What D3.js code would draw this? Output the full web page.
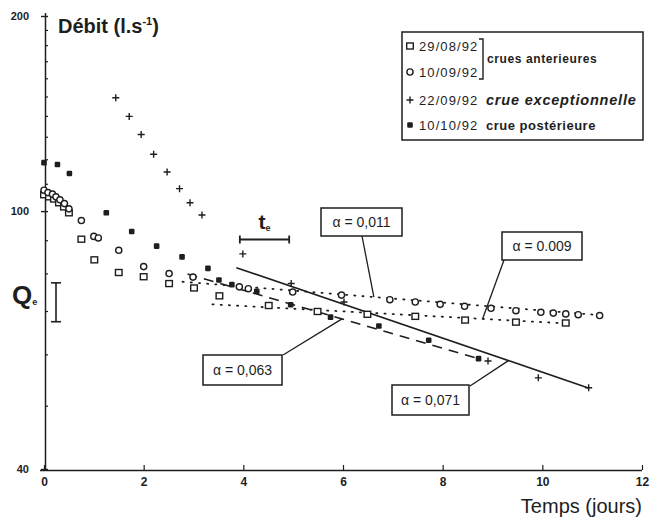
<!DOCTYPE html>
<html><head><meta charset="utf-8">
<script src="https://cdn.jsdelivr.net/npm/d3@7"></script>
<style>
body{margin:0;background:#fff;}
svg{display:block;font-family:"Liberation Sans",Arial,Helvetica,sans-serif;}
</style></head>
<body><svg id="c" width="651" height="517"></svg>
<script>
// ---------- DATA ----------
const timeTicks = [0, 2, 4, 6, 8, 10, 12];
const flowTicks = [40, 100, 200];
const flowMinorTicks = [50, 60, 70, 80, 90, 110, 120, 130, 140, 150, 160, 170, 180, 190];

const seriesDates = ["29/08/92", "10/09/92", "22/09/92", "10/10/92"];
const seriesNotes = ["crues anterieures", "crue exceptionnelle", "crue postérieure"];

// 29/08/92 (open squares)
const sq29Time = [0, 0.1, 0.2, 0.3, 0.4, 0.5, 0.75, 1.01, 1.5, 2.0, 2.51, 3.01, 3.52, 4.51, 5.49, 6.49, 7.45, 8.45, 9.47, 10.47];
const sq29Flow = [106, 105.2, 104.4, 103, 101.5, 99.4, 90.5, 84.1, 80.4, 79.2, 77.3, 76.1, 74.0, 71.5, 70.0, 69.3, 68.8, 67.9, 67.4, 67.2];
// 10/09/92 (open circles)
const ci10Time = [0, 0.08, 0.17, 0.24, 0.32, 0.41, 0.5, 0.75, 1.0, 1.09, 1.5, 2.0, 2.51, 2.99, 3.92, 4.1, 4.99, 5.97, 6.94, 7.45, 7.95, 8.44, 8.97, 9.47, 9.97, 10.22, 10.47, 10.72, 11.15];
const ci10Flow = [107.7, 106.8, 106.2, 105.2, 104.1, 102.7, 100.8, 96.7, 91.4, 90.9, 87.0, 82.1, 80.1, 79.1, 76.4, 75.9, 75.0, 74.2, 73.0, 72.4, 71.8, 71.3, 70.8, 70.2, 69.8, 69.6, 69.4, 69.2, 69.0];
// 22/09/92 (plus)
const pl22Time = [1.44, 1.71, 1.95, 2.2, 2.47, 2.72, 2.93, 3.17, 3.99, 4.96, 6.02, 8.91, 9.92, 10.93];
const pl22Flow = [149.6, 140, 131.3, 122.4, 114.9, 108.3, 103, 98.6, 85.9, 77.3, 72.4, 58.7, 55.3, 53.4];
// 10/10/92 (filled)
const fi10Time = [0, 0.27, 0.51, 1.25, 1.76, 2.26, 2.77, 3.29, 3.51, 3.77, 4.27, 4.95, 5.75, 6.72, 7.72, 8.72];
const fi10Flow = [118.8, 118, 114.3, 99.4, 93, 88.3, 85, 81.6, 78.3, 77.0, 75.2, 71.7, 68.6, 66.5, 63.2, 59.2];

// recession fits: label, start [t,Q], end [t,Q], t where the label leader touches
const fitLabels = ["α = 0,071", "α = 0,063", "α = 0,011", "α = 0.009"];
const fitStart = [[3.86, 81.8], [2.88, 80.0], [2.78, 77.8], [3.38, 71.8]];
const fitEnd = [[10.94, 53.3], [8.72, 59.2], [11.15, 69.1], [10.47, 67.1]];
const fitLeaderTime = [9.32, 5.98, 6.62, 8.8];

// t_e bar (days) and Q_e range (l/s)
const teRange = [3.93, 4.92];
const qeRange = [67.5, 77.5];

// ---------- DRAW ----------
const svg = d3.select("#c");
const ink = "#1e1e1e";
const x = d3.scaleLinear().domain([0, 12]).range([44, 642]);
const y = d3.scaleLog().domain([40, 200]).range([469, 16]);

// x axis
const gx = svg.append("g").attr("transform", "translate(0,470)")
  .call(d3.axisBottom(x).tickValues(timeTicks).tickSizeInner(-5).tickSizeOuter(0).tickPadding(7).tickFormat(d3.format("d")));
gx.select(".domain").attr("stroke", ink).attr("stroke-width", 1.6).attr("d", "M40,0.5H642");
gx.selectAll(".tick line").attr("stroke", ink).attr("stroke-width", 1.2);
gx.selectAll(".tick text").attr("fill", ink).attr("font-size", 12).attr("font-weight", "bold");

// y axis
const gy = svg.append("g").attr("transform", "translate(45,0)")
  .call(d3.axisLeft(y).tickValues(flowTicks).tickSizeInner(4).tickSizeOuter(0).tickPadding(12).tickFormat(d3.format("d")));
gy.select(".domain").attr("stroke", ink).attr("stroke-width", 1.5).attr("d", "M0.5,13V470");
gy.selectAll(".tick line").attr("stroke", ink).attr("stroke-width", 1.4).attr("x1", 3);
gy.selectAll(".tick text").attr("fill", ink).attr("font-size", 11).attr("font-weight", "bold");
svg.append("g").selectAll("line").data(flowMinorTicks).join("line")
  .attr("x1", 45).attr("x2", 48).attr("y1", d => y(d)).attr("y2", d => y(d))
  .attr("stroke", ink).attr("stroke-width", 1.2);

// axis titles
const dt = svg.append("text").attr("x", 58).attr("y", 33).attr("fill", ink)
  .attr("font-size", 20).attr("font-weight", "bold");
dt.append("tspan").text("Débit (l.s");
dt.append("tspan").attr("font-size", 11).attr("dy", -8).text("-1");
dt.append("tspan").attr("dy", 8).text(")");
svg.append("text").attr("x", 642).attr("y", 513).attr("text-anchor", "end").attr("fill", ink)
  .attr("font-size", 20).text("Temps (jours)");

// fit lines
const fitStyle = [
  {dash: null, w: 1.6},
  {dash: "10,7", w: 1.6},
  {dash: "1.2,7", w: 1.8},
  {dash: "1.2,7", w: 1.8}
];
const fits = fitLabels.map((lab, i) => ({lab, a: fitStart[i], b: fitEnd[i], lt: fitLeaderTime[i], st: fitStyle[i]}));
svg.append("g").selectAll("line").data(fits).join("line")
  .attr("x1", d => x(d.a[0])).attr("y1", d => y(d.a[1]))
  .attr("x2", d => x(d.b[0])).attr("y2", d => y(d.b[1]))
  .attr("stroke", ink).attr("stroke-width", d => d.st.w)
  .attr("stroke-dasharray", d => d.st.dash).attr("stroke-linecap", d => d.st.dash && d.st.dash.startsWith("1.2") ? "round" : "butt");

function fitQ(f, t) {
  const r = (t - f.a[0]) / (f.b[0] - f.a[0]);
  return Math.exp(Math.log(f.a[1]) + r * (Math.log(f.b[1]) - Math.log(f.a[1])));
}

// annotation boxes (layout)
const boxLayout = [
  {x: 392, y: 385, w: 77, h: 30, lx: 470, ly: 386},
  {x: 203, y: 355, w: 79, h: 30, lx: 283, ly: 355},
  {x: 321, y: 208, w: 81, h: 28, lx: 362, ly: 236},
  {x: 502, y: 232, w: 80, h: 28, lx: 504, ly: 260}
];
const ann = svg.append("g");
fits.forEach((f, i) => {
  const b = boxLayout[i];
  ann.append("line").attr("x1", b.lx).attr("y1", b.ly)
    .attr("x2", x(f.lt)).attr("y2", y(fitQ(f, f.lt)))
    .attr("stroke", ink).attr("stroke-width", 1.3);
  ann.append("rect").attr("x", b.x).attr("y", b.y).attr("width", b.w).attr("height", b.h)
    .attr("fill", "#fff").attr("stroke", ink).attr("stroke-width", 1.5);
  ann.append("text").attr("x", b.x + b.w / 2).attr("y", b.y + b.h / 2 + 5)
    .attr("text-anchor", "middle").attr("font-size", 14).attr("fill", ink).text(f.lab);
});

// markers
const mk = svg.append("g");
const sq = sq29Time.map((t, i) => [t, sq29Flow[i]]);
const ci = ci10Time.map((t, i) => [t, ci10Flow[i]]);
const pl = pl22Time.map((t, i) => [t, pl22Flow[i]]);
const fi = fi10Time.map((t, i) => [t, fi10Flow[i]]);

function drawSquare(g, px, py) {
  g.append("rect").attr("x", px - 3.3).attr("y", py - 3).attr("width", 6.6).attr("height", 6)
    .attr("fill", "#fff").attr("stroke", ink).attr("stroke-width", 1.4);
}
function drawCircle(g, px, py) {
  g.append("circle").attr("cx", px).attr("cy", py).attr("r", 3.1)
    .attr("fill", "#fff").attr("stroke", ink).attr("stroke-width", 1.4);
}
function drawPlus(g, px, py) {
  g.append("path").attr("d", `M${px - 3.5},${py}H${px + 3.5}M${px},${py - 3.5}V${py + 3.5}`)
    .attr("stroke", ink).attr("stroke-width", 1.4);
}
function drawFilled(g, px, py) {
  g.append("rect").attr("x", px - 2.8).attr("y", py - 2.8).attr("width", 5.6).attr("height", 5.6)
    .attr("rx", 1.2).attr("fill", ink);
}
sq.forEach(d => drawSquare(mk, x(d[0]), y(d[1])));
ci.forEach(d => drawCircle(mk, x(d[0]), y(d[1])));
fi.forEach(d => drawFilled(mk, x(d[0]), y(d[1])));
pl.forEach(d => drawPlus(mk, x(d[0]), y(d[1])));

// t_e bar
const te = svg.append("g").attr("stroke", ink).attr("stroke-width", 1.8);
const teY = 239.5;
te.append("line").attr("x1", x(teRange[0])).attr("x2", x(teRange[1])).attr("y1", teY).attr("y2", teY);
te.append("line").attr("x1", x(teRange[0])).attr("x2", x(teRange[0])).attr("y1", teY - 4).attr("y2", teY + 4);
te.append("line").attr("x1", x(teRange[1])).attr("x2", x(teRange[1])).attr("y1", teY - 4).attr("y2", teY + 4);
const tt = svg.append("text").attr("x", (x(teRange[0]) + x(teRange[1])) / 2 - 6).attr("y", 229)
  .attr("font-size", 21).attr("font-weight", "bold").attr("fill", ink);
tt.append("tspan").text("t");
tt.append("tspan").attr("font-size", 9).attr("dy", 2).text("e");

// Q_e bracket
const qe = svg.append("g").attr("stroke", ink).attr("stroke-width", 1.6);
const qx = 56;
qe.append("line").attr("x1", qx).attr("x2", qx).attr("y1", y(qeRange[1])).attr("y2", y(qeRange[0]));
qe.append("line").attr("x1", qx - 5).attr("x2", qx + 5).attr("y1", y(qeRange[1])).attr("y2", y(qeRange[1]));
qe.append("line").attr("x1", qx - 5).attr("x2", qx + 5).attr("y1", y(qeRange[0])).attr("y2", y(qeRange[0]));
const qt = svg.append("text").attr("x", 12).attr("y", 304).attr("font-size", 26).attr("font-weight", "bold").attr("fill", ink);
qt.append("tspan").text("Q");
qt.append("tspan").attr("font-size", 9).attr("dy", 1).text("e");

// legend
const lg = svg.append("g");
lg.append("rect").attr("x", 402).attr("y", 32).attr("width", 241).attr("height", 108)
  .attr("fill", "#fff").attr("stroke", ink).attr("stroke-width", 1.5);
const rowY = [46, 72, 100, 125];
const mx = 410;
drawSquare(lg, mx, rowY[0]);
drawCircle(lg, mx, rowY[1]);
drawPlus(lg, mx, rowY[2]);
drawFilled(lg, mx, rowY[3]);
seriesDates.forEach((s, i) => {
  lg.append("text").attr("x", 419).attr("y", rowY[i] + 5).attr("font-size", 13)
    .attr("letter-spacing", 1.1).attr("fill", ink).text(s);
});
lg.append("path").attr("d", `M479,${rowY[0] - 7}H483V${rowY[1] + 7}H479`)
  .attr("fill", "none").attr("stroke", ink).attr("stroke-width", 1.4);
lg.append("text").attr("x", 487).attr("y", (rowY[0] + rowY[1]) / 2 + 4).attr("font-size", 12)
  .attr("font-weight", "bold").attr("letter-spacing", 0.6).attr("fill", ink).text(seriesNotes[0]);
lg.append("text").attr("x", 486).attr("y", rowY[2] + 5).attr("font-size", 14.5)
  .attr("font-weight", "bold").attr("font-style", "italic").attr("letter-spacing", 0.8).attr("fill", ink).text(seriesNotes[1]);
lg.append("text").attr("x", 486).attr("y", rowY[3] + 5).attr("font-size", 13)
  .attr("font-weight", "bold").attr("letter-spacing", 0.5).attr("fill", ink).text(seriesNotes[2]);
</script>
</body></html>
